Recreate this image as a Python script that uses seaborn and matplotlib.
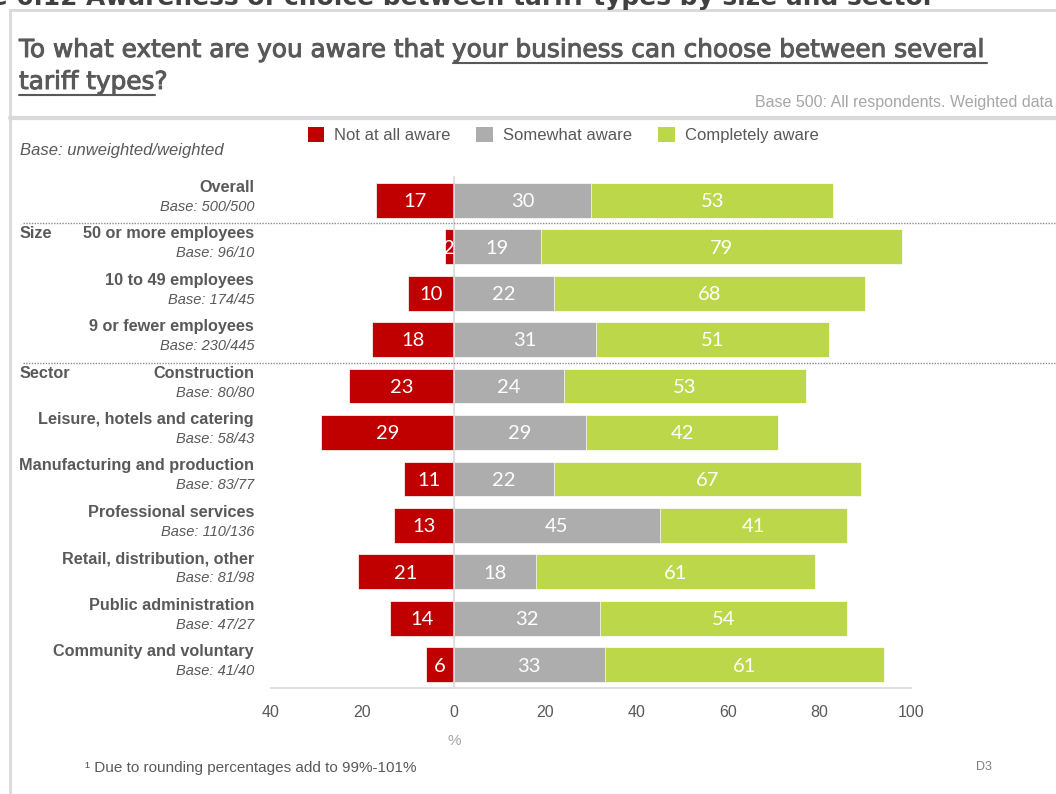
import matplotlib
matplotlib.use("Agg")
import matplotlib.pyplot as plt
import matplotlib.transforms as mtransforms
import matplotlib.patheffects as pe
from matplotlib.lines import Line2D
from matplotlib.patches import Patch
import numpy as np
import pandas as pd
import seaborn as sns

# ---- data -------------------------------------------------------------
groups = [
    "Overall",
    "50 or more employees",
    "10 to 49 employees",
    "9 or fewer employees",
    "Construction",
    "Leisure, hotels and catering",
    "Manufacturing and production",
    "Professional services",
    "Retail, distribution, other",
    "Public administration",
    "Community and voluntary",
]
bases = ["500/500", "96/10", "174/45", "230/445", "80/80", "58/43",
         "83/77", "110/136", "81/98", "47/27", "41/40"]
not_aware = [17, 2, 10, 18, 23, 29, 11, 13, 21, 14, 6]
somewhat_aware = [30, 19, 22, 31, 24, 29, 22, 45, 18, 32, 33]
completely_aware = [53, 79, 68, 51, 53, 42, 67, 41, 61, 54, 61]
series_names = ["Not at all aware", "Somewhat aware", "Completely aware"]
sections = ["Size", "Sector"]
section_starts = [1, 4]
x_ticks = [-40, -20, 0, 20, 40, 60, 80, 100]

# ---- style ------------------------------------------------------------
RED, GREY, GREEN = "#C00000", "#ADADAD", "#BDD74B"
TXT = "#595959"
LIGHT = "#D9D9D9"

sns.set_style("white")
plt.rcParams["font.family"] = ["Liberation Sans", "DejaVu Sans"]

W, H = 1056, 794
fig = plt.figure(figsize=(W / 100, H / 100), dpi=100)
renderer = fig.canvas.get_renderer()


def fx(px):
    return px / W


def fy(py):
    return 1 - py / H


def text_width(s, **kw):
    t = fig.text(0, 0, s, **kw)
    w = t.get_window_extent(renderer).width
    t.remove()
    return w


ax = fig.add_axes([fx(271), fy(688), fx(911) - fx(271), (688 - 177) / H])

df = pd.DataFrame({
    "group": groups,
    "not_aware": not_aware,
    "somewhat": somewhat_aware,
    "completely": completely_aware,
})
df["aware_total"] = df["somewhat"] + df["completely"]
df["not_neg"] = -df["not_aware"]

bar_kw = dict(data=df, y="group", orient="h", order=groups, width=0.75,
              saturation=1, errorbar=None, ax=ax, edgecolor="white",
              linewidth=0.5)
sns.barplot(x="aware_total", color=GREEN, **bar_kw)
sns.barplot(x="somewhat", color=GREY, **bar_kw)
sns.barplot(x="not_neg", color=RED, **bar_kw)

# value labels inside each segment
lab_kw = dict(ha="center", va="center", color="white", fontsize=14.5,
              family=["Lato", "DejaVu Sans"])
for i, (n, s, c) in enumerate(zip(not_aware, somewhat_aware, completely_aware)):
    ax.text(-n / 2, i + 0.03, f"{n}", **lab_kw)
    ax.text(s / 2, i + 0.03, f"{s}", **lab_kw)
    ax.text(s + c / 2, i + 0.03, f"{c}", **lab_kw)

# axes styling
ax.set_xlim(x_ticks[0], x_ticks[-1])
ax.set_ylim(len(groups) - 0.5, -0.5)
ax.set_xticks(x_ticks)
ax.set_xticklabels([f"{abs(t)}" for t in x_ticks])
ax.set_yticks(np.arange(len(groups) + 1) - 0.5)
ax.set_yticklabels([])
ax.set_xlabel("")
ax.set_ylabel("")
for side in ("top", "right"):
    ax.spines[side].set_visible(False)
ax.spines["bottom"].set_color(LIGHT)
ax.spines["bottom"].set_linewidth(1.2)
ax.spines["left"].set_position(("data", 0))
ax.spines["left"].set_color(LIGHT)
ax.spines["left"].set_linewidth(1.2)
ax.tick_params(axis="x", direction="in", length=5, color=LIGHT, width=1,
               pad=12, labelsize=11.5, labelcolor=TXT)
ax.tick_params(axis="y", direction="inout", length=5, color=LIGHT, width=1)

# row labels to the left of the axes
trans = mtransforms.blended_transform_factory(fig.transFigure, ax.transData)
for i, (g, b) in enumerate(zip(groups, bases)):
    fig.text(fx(254), i - 0.28, g, transform=trans, ha="right", va="center",
             fontsize=11.7, fontweight="bold", color=TXT)
    fig.text(fx(254), i + 0.14, f"Base: {b}", transform=trans, ha="right",
             va="center", fontsize=10.5, style="italic", color=TXT)

for name, start in zip(sections, section_starts):
    fig.text(fx(20), start - 0.28, name, transform=trans, ha="left",
             va="center", fontsize=11.7, fontweight="bold", color=TXT)
    fig.add_artist(Line2D([fx(23), 1.0], [start - 0.5, start - 0.5],
                          transform=trans, color="#8C8C8C", lw=1.0,
                          ls=(0, (1, 1))))

# axis unit
trans_x = mtransforms.blended_transform_factory(ax.transData, fig.transFigure)
fig.text(0, fy(741), "%", transform=trans_x, ha="center", va="center",
         fontsize=11, color="#A6A6A6")

# legend
handles = [Patch(facecolor=c, edgecolor="none") for c in (RED, GREY, GREEN)]
leg = fig.legend(handles, series_names, ncol=3, frameon=False, loc="center",
                 bbox_to_anchor=(fx(563), fy(135)), fontsize=12,
                 handlelength=1.0, handleheight=1.0, handletextpad=0.6,
                 columnspacing=1.55, borderpad=0)
for t in leg.get_texts():
    t.set_color(TXT)

fig.text(fx(20), fy(150), "Base: unweighted/weighted", ha="left", va="center",
         fontsize=12, style="italic", color=TXT)

# frame around the panel
fig.add_artist(Line2D([fx(10), fx(10)], [fy(10), 0], color=LIGHT, lw=2))
fig.add_artist(Line2D([fx(10), 1], [fy(10), fy(10)], color=LIGHT, lw=2))
fig.add_artist(Line2D([fx(10), 1], [fy(118), fy(118)], color=LIGHT, lw=3))

# figure caption running off the top edge
cap_kw = dict(fontweight="bold", color="#404040", family=["DejaVu Sans"])
cap_tail = "6.12 Awareness of choice between tariff types by size and sector"
cap_size = 12 * 915 / text_width(cap_tail, fontsize=12, **cap_kw)
fig.text(fx(935), fy(5), "Figure " + cap_tail, ha="right", va="baseline",
         fontsize=cap_size, **cap_kw)

# question title with underlined part
heavy = [pe.withStroke(linewidth=0.7, foreground=TXT)]
title_kw = dict(color=TXT, family=["DejaVu Sans"])
line1 = "To what extent are you aware that your business can choose between several"
lead = "To what extent are you aware that"
title_size = 16 * 968 / text_width(line1, fontsize=16, **title_kw)
x0 = 19
fig.text(fx(x0), fy(57), line1, ha="left", va="baseline",
         fontsize=title_size, path_effects=heavy, **title_kw)
space_w = (text_width("a a", fontsize=title_size, **title_kw)
           - text_width("aa", fontsize=title_size, **title_kw))
u_start = x0 + text_width(lead, fontsize=title_size, **title_kw) + space_w
u_end = x0 + text_width(line1, fontsize=title_size, **title_kw)
fig.add_artist(Line2D([fx(u_start), fx(u_end)], [fy(63), fy(63)],
                      color=TXT, lw=1.5))

line2_ul = "tariff types"
fig.text(fx(x0), fy(89), line2_ul + "?", ha="left", va="baseline",
         fontsize=title_size, path_effects=heavy, **title_kw)
u2_end = x0 + text_width(line2_ul, fontsize=title_size, **title_kw)
fig.add_artist(Line2D([fx(x0), fx(u2_end)], [fy(95), fy(95)],
                      color=TXT, lw=1.5))

fig.text(fx(755), fy(102), "Base 500: All respondents. Weighted data",
         ha="left", va="center", fontsize=11.5, color="#A6A6A6")

# footnotes
fig.text(fx(85), fy(768), "\u00b9 Due to rounding percentages add to 99%-101%",
         ha="left", va="center", fontsize=11, color=TXT)
fig.text(fx(976), fy(767), "D3", ha="left", va="center", fontsize=9,
         color="#7F7F7F")

fig.savefig("out.png", dpi=100)
